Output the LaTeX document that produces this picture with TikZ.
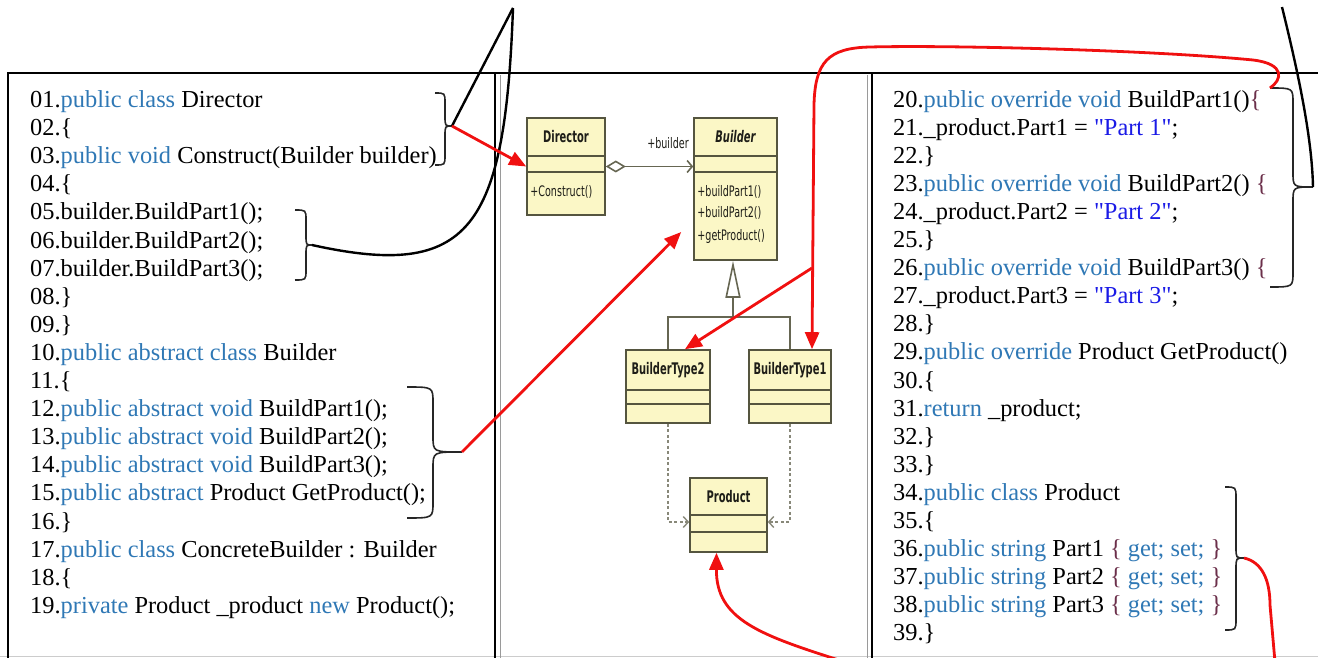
\documentclass[tikz,border=0pt]{standalone}
\usepackage{fontspec}
\setmainfont{Liberation Serif}
\newfontfamily\codefont{Liberation Serif}
\newfontfamily\umlnamefont[FakeStretch=0.62]{DejaVu Sans}
\newfontfamily\umlopfont[FakeStretch=0.66]{DejaVu Sans}
\usetikzlibrary{arrows.meta,calc,positioning}
\definecolor{CodeKw}{HTML}{2F78B5}
\definecolor{CodeStr}{HTML}{1A1AE6}
\definecolor{CodeBrace}{HTML}{6B2F4A}
\definecolor{UmlFill}{HTML}{FBF7C6}
\definecolor{UmlLine}{HTML}{55553F}
\definecolor{UmlText}{HTML}{1E1E18}
\definecolor{NoteRed}{HTML}{F01010}
\definecolor{PanelGray}{HTML}{9A9A9A}
\newcommand\kw[1]{\textcolor{CodeKw}{#1}}
\newcommand\codestr[1]{\textcolor{CodeStr}{#1}}
\newcommand\codebr[1]{\textcolor{CodeBrace}{#1}}
\tikzset{
  code line/.style={
    anchor=base west,
    inner sep=0pt,
    font=\codefont\fontsize{24.4}{28}\selectfont
  },
  panel frame/.style={draw=black,line width=2.6pt},
  panel thin/.style={draw=PanelGray,line width=1pt},
  uml box/.style={draw=UmlLine,fill=UmlFill,line width=1.6pt,inner sep=0pt},
  uml rule/.style={draw=UmlLine,line width=1.8pt},
  uml name/.style={
    text=UmlText,
    inner sep=0pt,
    font=\umlnamefont\fontsize{16}{18}\selectfont\bfseries
  },
  uml op/.style={
    text=UmlText,
    inner sep=0pt,
    anchor=west,
    font=\umlopfont\fontsize{14.5}{16}\selectfont
  },
  uml link/.style={draw=UmlLine!90!white,line width=1.6pt},
  uml dep/.style={draw=UmlLine!70!white,line width=1.4pt,dash pattern=on 3pt off 2.5pt},
  uml barb/.style={-{Straight Barb[length=5pt,width=11pt]}},
  code brace/.style={draw=black!85,line width=1.6pt},
  black link/.style={draw=black,line width=2.4pt},
  red link/.style={draw=NoteRed,line width=2.8pt},
  red flow/.style={red link,-{Triangle[length=17pt,width=14pt]}}
}

\begin{document}
\begin{tikzpicture}[x=1pt,y=-1pt]
  \useasboundingbox (0,0) rectangle (1318,658);

  % panels
  \draw[black!20,line width=1pt] (0,656) -- (1318,656);
  \draw[panel frame] (8,662) -- (8,73) -- (1320,73);
  \draw[panel frame] (495,73) -- (495,662);
  \draw[panel frame] (872,73) -- (872,662);
  \draw[panel thin] (500,662) -- (500,75);
  \draw[panel thin] (867,662) -- (867,75);

  % left code
  \foreach \txt [count=\i] in {
    {01.\kw{public class} Director},
    {02.\{},
    {03.\kw{public void} Construct(Builder builder)},
    {04.\{},
    {05.builder.BuildPart1();},
    {06.builder.BuildPart2();},
    {07.builder.BuildPart3();},
    {08.\}},
    {09.\}},
    {10.\kw{public abstract class} Builder},
    {11.\{},
    {12.\kw{public abstract void} BuildPart1();},
    {13.\kw{public abstract void} BuildPart2();},
    {14.\kw{public abstract void} BuildPart3();},
    {15.\kw{public abstract} Product GetProduct();},
    {16.\}},
    {17.\kw{public class} ConcreteBuilder : Builder},
    {18.\{},
    {19.\kw{private} Product \_product \kw{new} Product();}
  }{
    \node[code line] (left\i) at (30,{107.5+(\i-1)*28.1}) {\txt};
  }

  % right code
  \foreach \txt [count=\i] in {
    {20.\kw{public override void} BuildPart1()\codebr{\{}},
    {21.\_product.Part1 = \codestr{"Part 1"};},
    {22.\}},
    {23.\kw{public override void} BuildPart2() \codebr{\{}},
    {24.\_product.Part2 = \codestr{"Part 2"};},
    {25.\}},
    {26.\kw{public override void} BuildPart3() \codebr{\{}},
    {27.\_product.Part3 = \codestr{"Part 3"};},
    {28.\}},
    {29.\kw{public override} Product GetProduct()},
    {30.\{},
    {31.\kw{return} \_product;},
    {32.\}},
    {33.\}},
    {34.\kw{public class} Product},
    {35.\{},
    {36.\kw{public string} Part1 \codebr{\{} \kw{get; set;} \codebr{\}}},
    {37.\kw{public string} Part2 \codebr{\{} \kw{get; set;} \codebr{\}}},
    {38.\kw{public string} Part3 \codebr{\{} \kw{get; set;} \codebr{\}}},
    {39.\}}
  }{
    \node[code line] (right\i) at (893,{107.5+(\i-1)*28.05}) {\txt};
  }

  % uml classes
  \node[uml box,minimum width=78pt,minimum height=97pt] (director) at (566,166.5) {};
  \node[uml name] (director name) at ([yshift=-19.5pt]director.north) {Director};
  \draw[uml rule] ([yshift=-39pt]director.north west) -- ([yshift=-39pt]director.north east);
  \draw[uml rule] ([yshift=-55pt]director.north west) -- ([yshift=-55pt]director.north east);
  \node[uml op] (director op) at ([xshift=4pt,yshift=-75pt]director.north west) {+Construct()};

  \node[uml box,minimum width=83pt,minimum height=142pt] (builder) at (735.5,189) {};
  \node[uml name,font=\umlnamefont\fontsize{16}{18}\selectfont\bfseries\itshape] (builder name) at ([yshift=-19.5pt]builder.north) {Builder};
  \draw[uml rule] ([yshift=-39pt]builder.north west) -- ([yshift=-39pt]builder.north east);
  \draw[uml rule] ([yshift=-55pt]builder.north west) -- ([yshift=-55pt]builder.north east);
  \node[uml op] (builder op1) at ([xshift=4pt,yshift=-75pt]builder.north west) {+buildPart1()};
  \node[uml op] (builder op2) at ([xshift=4pt,yshift=-96pt]builder.north west) {+buildPart2()};
  \node[uml op] (builder op3) at ([xshift=4pt,yshift=-119pt]builder.north west) {+getProduct()};

  \node[uml box,minimum width=84pt,minimum height=73pt] (type2) at (668,386.5) {};
  \node[uml name] (type2 name) at ([yshift=-20.5pt]type2.north) {BuilderType2};
  \draw[uml rule] ([yshift=-41pt]type2.north west) -- ([yshift=-41pt]type2.north east);
  \draw[uml rule] ([yshift=-55pt]type2.north west) -- ([yshift=-55pt]type2.north east);

  \node[uml box,minimum width=82pt,minimum height=73pt] (type1) at (790,386.5) {};
  \node[uml name] (type1 name) at ([yshift=-20.5pt]type1.north) {BuilderType1};
  \draw[uml rule] ([yshift=-41pt]type1.north west) -- ([yshift=-41pt]type1.north east);
  \draw[uml rule] ([yshift=-55pt]type1.north west) -- ([yshift=-55pt]type1.north east);

  \node[uml box,minimum width=77pt,minimum height=74pt] (product) at (728.5,515) {};
  \node[uml name] (product name) at ([yshift=-19pt]product.north) {Product};
  \draw[uml rule] ([yshift=-38pt]product.north west) -- ([yshift=-38pt]product.north east);
  \draw[uml rule] ([yshift=-55pt]product.north west) -- ([yshift=-55pt]product.north east);

  % uml relations
  \draw[uml link,{Diamond[open,length=20pt,width=12pt]}-{Straight Barb[length=5pt,width=12pt]}]
    (director.east) -- (director.east -| builder.west);
  \node[uml op,anchor=center] (agg label) at (668,143) {+builder};
  \coordinate (gen bar) at (733,317);
  \draw[uml link,-{Triangle[open,length=37pt,width=15pt]}] (gen bar) -- (gen bar |- builder.south);
  \draw[uml link] (type2.north) |- (gen bar) -| (type1.north);
  \draw[uml dep,uml barb] (type2.south) |- ([yshift=-7pt]product.west);
  \draw[uml dep,uml barb] (type1.south) |- ([yshift=-7pt]product.east);

  % braces
  \coordinate (braceA tip) at (452,126);
  \coordinate (braceB tip) at (312,245);
  \coordinate (braceC tip) at (462,452);
  \coordinate (braceD top) at (1270,88);
  \coordinate (braceD tip) at (1313,187);
  \coordinate (braceE tip) at (1244,558);
  \draw[code brace] (435,93) .. controls (445,93) .. (445,103) -- (445,116)
    .. controls (445,126) .. (braceA tip) .. controls (445,126) .. (445,136)
    -- (445,155) .. controls (445,165) .. (435,165);
  \draw[code brace] (295,210) .. controls (306,210) .. (306,220) -- (306,235)
    .. controls (306,245) .. (braceB tip) .. controls (306,245) .. (306,255)
    -- (306,270) .. controls (306,280) .. (295,280);
  \draw[code brace] (407,387) .. controls (433,387) .. (433,403) -- (433,436)
    .. controls (433,452) .. (braceC tip) .. controls (433,452) .. (433,468)
    -- (433,502) .. controls (433,518) .. (407,518);
  \draw[code brace] (braceD top) .. controls (1293,88) .. (1293,103) -- (1293,172)
    .. controls (1293,187) .. (braceD tip) .. controls (1293,187) .. (1293,202)
    -- (1293,272) .. controls (1293,287) .. (1270,287);
  \draw[code brace] (1225,487) .. controls (1236,487) .. (1236,498) -- (1236,547)
    .. controls (1236,558) .. (braceE tip) .. controls (1236,558) .. (1236,569)
    -- (1236,619) .. controls (1236,630) .. (1225,630);

  % black links
  \coordinate (left apex) at (513,8);
  \coordinate (right apex) at (1282,7);
  \draw[black link] (braceA tip) -- (left apex);
  \draw[black link] (left apex) .. controls (505,230) and (470,280) .. (braceB tip);
  \draw[black link] (right apex) .. controls (1300,80) and (1312,140) .. (braceD tip);

  % red links
  \coordinate (red split) at (812,268);
  \coordinate (bottom left) at (845,662);
  \coordinate (bottom right) at (1275,662);
  \draw[red flow] (braceA tip) -- (director.west);
  \draw[red flow] (braceC tip) -- ([xshift=-12pt,yshift=-43pt]builder.west);
  \draw[red flow] (braceD top) .. controls (1282,80) and (1286,64) .. (1253,60)
    .. controls (1150,50) and (950,45) .. (870,47)
    .. controls (828,48) and (815,62) .. (814,105) -- ([xshift=22pt]type1.north);
  \draw[red flow] (red split) -- ([xshift=17pt]type2.north);
  \draw[red link] (braceE tip) .. controls (1262,562) and (1270,580) .. (1270,605) -- (bottom right);
  \draw[red flow] (bottom left) .. controls (760,635) and (716,620) .. ([xshift=-12pt]product.south);
\end{tikzpicture}
\end{document}
